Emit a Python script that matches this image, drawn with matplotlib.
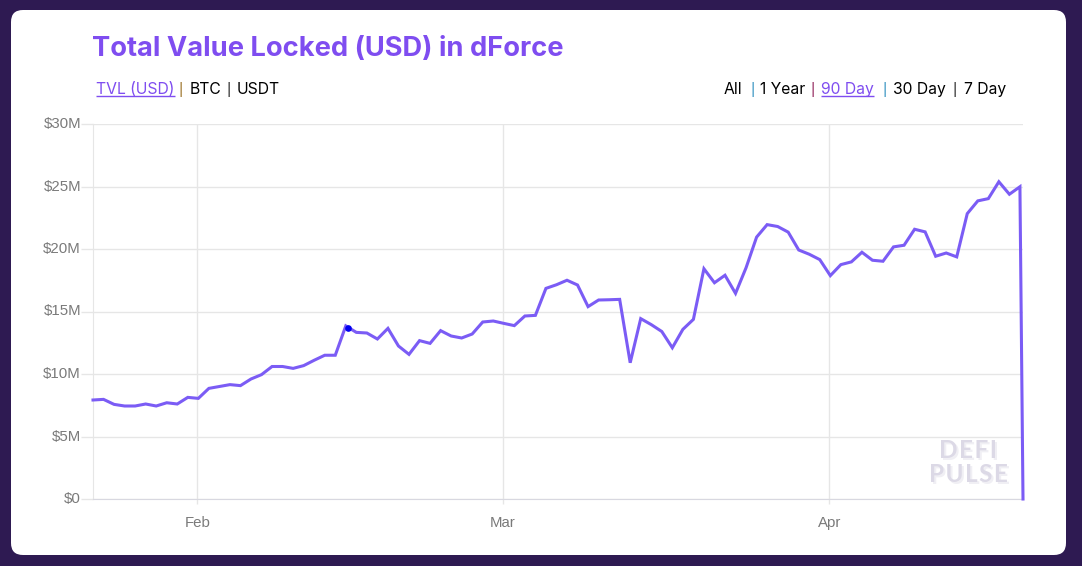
import numpy as np
import matplotlib
matplotlib.use("Agg")
import matplotlib.pyplot as plt
from matplotlib.patches import FancyBboxPatch
from matplotlib.transforms import ScaledTranslation

W, H = 1082, 566
PURPLE = "#7f4df0"
LINE = "#7b5cf5"
GRID = "#e6e6e6"

# daily TVL in $M, first point is 22 Jan
start_date = np.datetime64("2020-01-22T02:00")
tvl = [7.92, 7.97, 7.57, 7.44, 7.44, 7.6, 7.44, 7.7, 7.6, 8.13,
       8.05, 8.85, 9.0, 9.15, 9.07, 9.6, 9.95, 10.6, 10.6, 10.45,
       10.67, 11.1, 11.5, 11.5, 13.85, 13.33, 13.28, 12.8, 13.65, 12.24,
       11.57, 12.67, 12.45, 13.47, 13.04, 12.88, 13.2, 14.16, 14.24, 14.05,
       13.87, 14.64, 14.69, 16.85, 17.14, 17.5, 17.12, 15.39, 15.92, 15.94,
       15.97, 10.9, 14.43, 13.95, 13.4, 12.1, 13.57, 14.37, 18.42, 17.3,
       17.9, 16.45, 18.5, 20.95, 21.95, 21.8, 21.35, 19.92, 19.58, 19.15,
       17.87, 18.75, 18.97, 19.74, 19.1, 19.02, 20.17, 20.3, 21.58, 21.37,
       19.42, 19.68, 19.37, 22.83, 23.85, 24.03, 25.38, 24.38, 24.98]
last_date = np.datetime64("2020-04-19T09:00")
last_value = 0.0

hover_date = np.datetime64("2020-02-15T07:00")
hover_value = 13.68

y_ticks = [0, 5, 10, 15, 20, 25, 30]
y_labels = ["$0", "$5M", "$10M", "$15M", "$20M", "$25M", "$30M"]
x_ticks = ["2020-02-01", "2020-03-01", "2020-04-01"]
x_labels = ["Feb", "Mar", "Apr"]

dates = start_date + np.arange(len(tvl)) * np.timedelta64(1, "D")
dates = np.append(dates, last_date)
values = np.append(tvl, last_value)

fig = plt.figure(figsize=(W / 100, H / 100), dpi=100, facecolor="#2e1a52")

# pixel canvas for the card and the header texts
bg = fig.add_axes([0, 0, 1, 1])
bg.set_xlim(0, W)
bg.set_ylim(H, 0)
bg.axis("off")
bg.add_patch(FancyBboxPatch((21, 20), 1035, 525, boxstyle="round,pad=10,rounding_size=12",
                            fc="white", ec="none", mutation_aspect=1))

bg.text(92, 49.5, "Total Value Locked (USD) in dForce", color=PURPLE, fontsize=19.65,
        fontfamily="Inter", fontweight="bold", va="center", ha="left")


def tab(x, label, color="black", link=False):
    t = bg.text(x, 89.5, label, color=color, fontsize=11.3, fontfamily="Inter", va="center", ha="left")
    if link:
        bb = t.get_window_extent(fig.canvas.get_renderer())
        bg.plot([x, x + bb.width], [96, 96], color=color, lw=1, solid_capstyle="butt")


def pipe(x, color="black"):
    bg.text(x, 89.5, "|", color=color, fontsize=9, fontfamily="Inter", va="center", ha="center")


tab(96, "TVL (USD)", PURPLE, True)
pipe(181, "#8a5a00")
tab(190, "BTC")
pipe(228)
tab(237, "USDT")

tab(724, "All")
pipe(752, "#0f7fb5")
tab(760, "1 Year")
pipe(813, "#800040")
tab(821, "90 Day", PURPLE, True)
pipe(884, "#0f7fb5")
tab(893, "30 Day")
pipe(955)
tab(964, "7 Day")

# chart itself
ax = fig.add_axes([93 / W, 1 - 499 / H, 930 / W, 375 / H], facecolor="none")
ax.plot(dates, values, color=LINE, lw=2.2, solid_joinstyle="miter", clip_on=False, zorder=3)
ax.plot([hover_date], [hover_value], "o", color="#0000f0", ms=4.8, mec="none", zorder=4)

ax.set_xlim(dates[0], dates[-1])
ax.set_ylim(0, 30)
ax.set_yticks(y_ticks)
ax.set_yticklabels(y_labels)
ax.set_xticks(np.array(x_ticks, dtype="datetime64[D]"))
ax.set_xticklabels(x_labels)
ax.grid(True, color=GRID, lw=1)
ax.set_axisbelow(True)
for side in ["top", "right"]:
    ax.spines[side].set_visible(False)
ax.spines["left"].set_color(GRID)
ax.spines["bottom"].set_color("#d8d8e0")
ax.tick_params(axis="y", length=8.6, width=1, color=GRID, pad=0, labelsize=10.8, labelcolor="#7a7a7a")
ax.tick_params(axis="x", length=3.5, width=1, color=GRID, pad=8.5, labelsize=10.8, labelcolor="#7a7a7a")
lift = ScaledTranslation(0, 1.5 / 100, fig.dpi_scale_trans)
for lab in ax.get_xticklabels() + ax.get_yticklabels():
    lab.set_fontfamily("Liberation Sans")
for lab in ax.get_yticklabels():
    lab.set_transform(lab.get_transform() + lift)

# watermark, light shadow first
for dx, dy, col in [(2, 2, "#f0eff4"), (0, 0, "#dcd9e6")]:
    bg.text(968 + dx, 450 + dy, "D\u200aE\u200aF\u200aI", color=col, fontsize=17.5, fontfamily="Lato",
            fontweight="bold", ha="center", va="center", zorder=5)
    bg.text(968 + dx, 475 + dy, "P\u200aU\u200aL\u200aS\u200aE", color=col, fontsize=17.5, fontfamily="Lato",
            fontweight="bold", ha="center", va="center", zorder=5)
bg.set_zorder(0)
ax.set_zorder(1)

fig.savefig("out.png", dpi=100, facecolor=fig.get_facecolor())
